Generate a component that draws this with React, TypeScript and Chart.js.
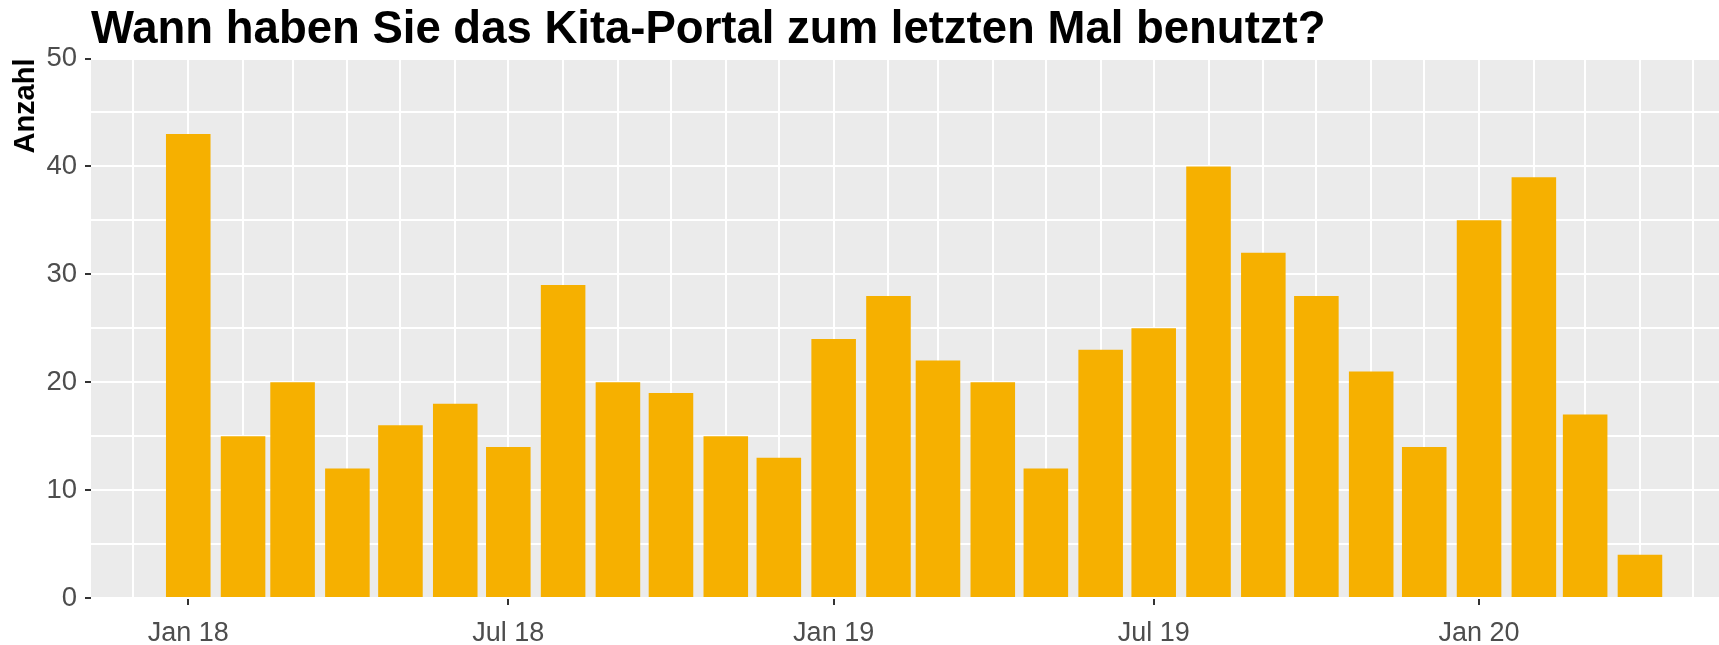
import { useEffect, useRef } from 'react';
import { Chart, registerables } from 'chart.js';

Chart.register(...registerables);

const TITLE = 'Wann haben Sie das Kita-Portal zum letzten Mal benutzt?';
const Y_TITLE = 'Anzahl';

const MONTHS = [
  '2018-01', '2018-02', '2018-03', '2018-04', '2018-05', '2018-06',
  '2018-07', '2018-08', '2018-09', '2018-10', '2018-11', '2018-12',
  '2019-01', '2019-02', '2019-03', '2019-04', '2019-05', '2019-06',
  '2019-07', '2019-08', '2019-09', '2019-10', '2019-11', '2019-12',
  '2020-01', '2020-02', '2020-03', '2020-04',
];
const COUNTS = [
  43, 15, 20, 12, 16, 18,
  14, 29, 20, 19, 15, 13,
  24, 28, 22, 20, 12, 23,
  25, 40, 32, 28, 21, 14,
  35, 39, 17, 4,
];

const TICK_MONTHS = ['2018-01', '2018-07', '2019-01', '2019-07', '2020-01'];
const TICK_LABELS = ['Jan 18', 'Jul 18', 'Jan 19', 'Jul 19', 'Jan 20'];

const GRID_FIRST = '2017-12';
const GRID_LAST = '2020-05';

const Y_MIN = 0;
const Y_MAX = 50;
const Y_STEP = 5;
const Y_LABEL_STEP = 10;

// x-axis limits in days since 2018-01-01
const X_MIN = -55.0;
const X_MAX = 865.7;

const FONT = '"Liberation Sans", Arial, Helvetica, sans-serif';
const BAR_COLOR = '#F6B000';
const PANEL_BG = '#EBEBEB';

const DAY = 86400000;
const ORIGIN = Date.UTC(2018, 0, 1);

function dayOf(ym: string): number {
  const [y, m] = ym.split('-').map(Number);
  return (Date.UTC(y, m - 1, 1) - ORIGIN) / DAY;
}

function monthRange(first: string, last: string): string[] {
  const out: string[] = [];
  let [y, m] = first.split('-').map(Number);
  const [ly, lm] = last.split('-').map(Number);
  while (y < ly || (y === ly && m <= lm)) {
    out.push(`${y}-${String(m).padStart(2, '0')}`);
    m++;
    if (m > 12) { m = 1; y++; }
  }
  return out;
}

const panelBg = {
  id: 'panelBg',
  beforeDraw(chart: any) {
    const { ctx, chartArea: a } = chart;
    ctx.save();
    ctx.fillStyle = PANEL_BG;
    ctx.fillRect(a.left, a.top, a.right - a.left, a.bottom - a.top);
    ctx.restore();
  },
};

export default function App() {
  const ref = useRef<HTMLCanvasElement | null>(null);

  useEffect(() => {
    document.body.style.margin = '0';
    const canvas = ref.current;
    if (!canvas) return;

    const tickDays = TICK_MONTHS.map(dayOf);
    const gridDays = monthRange(GRID_FIRST, GRID_LAST).map(dayOf);

    const chart = new Chart(canvas, {
      type: 'bar',
      data: {
        datasets: [
          {
            data: MONTHS.map((m, i) => ({ x: dayOf(m), y: COUNTS[i] })),
            backgroundColor: BAR_COLOR,
            borderWidth: 0,
            barPercentage: 0.9,
            categoryPercentage: 1.0,
          },
        ],
      },
      options: {
        responsive: false,
        animation: false,
        devicePixelRatio: 1,
        layout: { padding: 0 },
        plugins: {
          legend: { display: false },
          tooltip: { enabled: false },
          title: {
            display: true,
            text: TITLE,
            align: 'start',
            fullSize: false,
            color: '#000000',
            font: { family: FONT, size: 45.5, weight: 'bold', lineHeight: 1.2 },
            padding: { top: 3.6, bottom: 0.3 },
          },
        },
        scales: {
          x: {
            type: 'linear',
            min: X_MIN,
            max: X_MAX,
            offset: false,
            border: { display: false },
            grid: {
              offset: false,
              color: '#FFFFFF',
              lineWidth: 2,
              drawTicks: true,
              tickLength: 7,
              tickWidth: 2,
              tickColor: (c: any) => (c.tick && c.tick.label ? '#333333' : 'rgba(0,0,0,0)'),
            },
            afterBuildTicks: (scale: any) => {
              scale.ticks = gridDays
                .filter((d) => d >= X_MIN && d <= X_MAX)
                .map((d) => ({ value: d }));
            },
            afterFit: (scale: any) => {
              scale.height = 47;
            },
            ticks: {
              autoSkip: false,
              maxRotation: 0,
              minRotation: 0,
              padding: 12.5,
              color: '#4D4D4D',
              font: { family: FONT, size: 27, lineHeight: 1.2 },
              callback: (v: any) => {
                const idx = tickDays.indexOf(Number(v));
                return idx >= 0 ? TICK_LABELS[idx] : '';
              },
            },
          },
          y: {
            type: 'linear',
            min: Y_MIN,
            max: Y_MAX,
            border: { display: false },
            grid: {
              color: '#FFFFFF',
              lineWidth: 2,
              drawTicks: true,
              tickLength: 6,
              tickWidth: 2,
              tickColor: (c: any) =>
                c.tick && c.tick.value % Y_LABEL_STEP === 0 ? '#333333' : 'rgba(0,0,0,0)',
            },
            afterFit: (scale: any) => {
              scale.width = 91;
            },
            ticks: {
              stepSize: Y_STEP,
              autoSkip: false,
              padding: 8,
              color: '#4D4D4D',
              font: { family: FONT, size: 27.5, lineHeight: 1.2 },
              callback: (v: any) => (Number(v) % Y_LABEL_STEP === 0 ? String(v) : ''),
            },
            title: {
              display: true,
              text: Y_TITLE,
              align: 'end',
              color: '#000000',
              font: { family: FONT, size: 29, weight: 'bold', lineHeight: 1.2 },
              padding: { top: 8.5, bottom: 0 },
            },
          },
        },
      },
      plugins: [panelBg],
    } as any);

    return () => chart.destroy();
  }, []);

  return (
    <div style={{ width: 1719, height: 645 }}>
      <canvas ref={ref} width={1719} height={645} style={{ display: 'block' }} />
    </div>
  );
}
